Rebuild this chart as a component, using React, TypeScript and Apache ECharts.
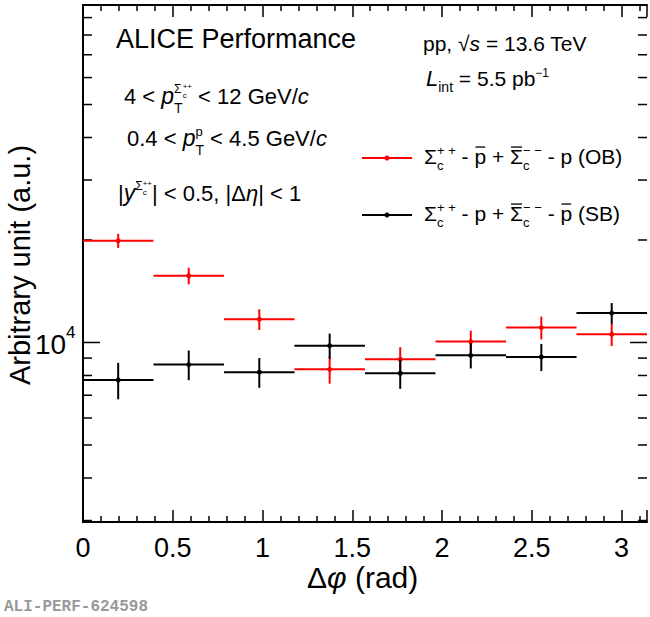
import React, { useEffect, useRef } from "react";
import * as echarts from "echarts";

const binCenters = [0.196, 0.589, 0.982, 1.374, 1.767, 2.160, 2.553, 2.945];
const binHalfWidth = 0.19635;
const obValues = [19900, 15700, 11700, 8340, 8930, 10060, 11060, 10570];
const obErrors = [950, 880, 820, 770, 760, 770, 850, 810];
const sbValues = [7760, 8610, 8180, 9790, 8120, 9170, 9070, 12200];
const sbErrors = [950, 860, 820, 830, 810, 780, 830, 850];
const yMinorTicks = [3000, 4000, 5000, 6000, 7000, 8000, 9000, 20000, 30000, 40000, 50000, 60000, 70000, 80000, 90000];
const yMajorTicks = [10000];
const xTickLabels = ["0", "0.5", "1", "1.5", "2", "2.5", "3"];

const FONT = "Liberation Sans, Arial, sans-serif";
let ctx: CanvasRenderingContext2D | null = null;
function measure(t: string, size: number, it?: boolean) {
  if (!ctx) ctx = document.createElement("canvas").getContext("2d");
  ctx!.font = `${it ? "italic " : ""}${size}px ${FONT}`;
  return ctx!.measureText(t).width;
}
type Seg = { t: string; s: number; it?: boolean; dy?: number; stack?: boolean; bar?: boolean };
function richLine(x: number, y: number, segs: Seg[], color = "#000") {
  const els: any[] = [];
  let cx = x;
  let lastStart = x;
  let stackMax = 0;
  for (const sg of segs) {
    let px = cx;
    if (sg.stack) px = lastStart;
    else lastStart = cx;
    const w = measure(sg.t, sg.s, sg.it);
    els.push({
      type: "text",
      x: px,
      y: y + (sg.dy || 0),
      style: { text: sg.t, fontSize: sg.s, fontStyle: sg.it ? "italic" : "normal", fontFamily: FONT, fill: color, textVerticalAlign: "bottom" },
    });
    if (sg.bar) {
      const by = y + (sg.dy || 0) - sg.s * 0.95;
      els.push({ type: "line", shape: { x1: px + 1, y1: by, x2: px + w - 1, y2: by }, style: { stroke: color, lineWidth: 1.3 } });
    }
    if (sg.stack) {
      stackMax = Math.max(stackMax, px + w);
      cx = Math.max(cx, stackMax);
    } else {
      cx = px + w;
      stackMax = cx;
    }
  }
  return els;
}

export default function App() {
  const ref = useRef<HTMLDivElement>(null);
  useEffect(() => {
    const chart = echarts.init(ref.current!, undefined, { renderer: "svg" });
    const errItem = (color: string) => (params: any, api: any) => {
      const x = api.value(0), y = api.value(1), e = api.value(2);
      const l = api.coord([x - binHalfWidth, y]);
      const r = api.coord([x + binHalfWidth, y]);
      const c = api.coord([x, y]);
      const lo = api.coord([x, y - e]);
      const hi = api.coord([x, y + e]);
      const st = { stroke: color, lineWidth: 2 };
      return {
        type: "group",
        children: [
          { type: "line", shape: { x1: l[0], y1: l[1], x2: r[0], y2: r[1] }, style: st },
          { type: "line", shape: { x1: c[0], y1: lo[1], x2: c[0], y2: hi[1] }, style: st },
          { type: "circle", shape: { cx: c[0], cy: c[1], r: 2.5 }, style: { fill: color } },
        ],
      };
    };
    const tickItem = (len: number, label: boolean) => (params: any, api: any) => {
      const v = api.value(0);
      const a = api.coord([0, v]);
      const b = api.coord([Math.PI, v]);
      const ch: any[] = [
        { type: "line", shape: { x1: a[0], y1: a[1], x2: a[0] + len, y2: a[1] }, style: { stroke: "#000", lineWidth: 1.5 } },
        { type: "line", shape: { x1: b[0], y1: b[1], x2: b[0] - len, y2: b[1] }, style: { stroke: "#000", lineWidth: 1.5 } },
      ];
      if (label) {
        ch.push({ type: "text", x: a[0] - 48, y: a[1] + 16, style: { text: "10", fontSize: 28, fontFamily: FONT, fill: "#000", textVerticalAlign: "bottom" } });
        ch.push({ type: "text", x: a[0] - 17, y: a[1] - 1, style: { text: "4", fontSize: 17, fontFamily: FONT, fill: "#000", textVerticalAlign: "bottom" } });
      }
      return { type: "group", children: ch };
    };
    const xAxisCommon = {
      type: "value", min: 0, max: Math.PI, interval: 0.5,
      axisLine: { show: true, onZero: false, lineStyle: { color: "#000", width: 2 } },
      axisTick: { show: true, inside: true, length: 12, lineStyle: { color: "#000", width: 1.5 } },
      minorTick: { show: true, splitNumber: 5, length: 6, lineStyle: { color: "#000", width: 1.5 } },
      splitLine: { show: false },
    };
    const graphics: any[] = [
      ...richLine(116, 52, [{ t: "ALICE Performance", s: 27 }]),
      ...richLine(124, 107, [
        { t: "4 < ", s: 22 }, { t: "p", s: 23, it: true },
        { t: "T", s: 14, dy: 8 }, { t: "Σ", s: 12, dy: -12, stack: true }, { t: "c", s: 8, dy: -8 }, { t: "++", s: 8, dy: -17, stack: true },
        { t: " < 12 GeV/", s: 22 }, { t: "c", s: 22, it: true },
      ]),
      ...richLine(127, 149, [
        { t: "0.4 < ", s: 22 }, { t: "p", s: 23, it: true },
        { t: "T", s: 14, dy: 8 }, { t: "p", s: 13, dy: -11, stack: true },
        { t: " < 4.5 GeV/", s: 22 }, { t: "c", s: 22, it: true },
      ]),
      ...richLine(118, 204, [
        { t: "|", s: 22 }, { t: "y", s: 23, it: true },
        { t: "Σ", s: 12, dy: -12 }, { t: "c", s: 8, dy: -8 }, { t: "++", s: 8, dy: -17, stack: true },
        { t: "| < 0.5, |Δ", s: 22 }, { t: "η", s: 22, it: true }, { t: "| < 1", s: 22 },
      ]),
      ...richLine(423, 54, [
        { t: "pp, √", s: 21 }, { t: "s", s: 21, it: true }, { t: " = 13.6 TeV", s: 21 },
      ]),
      ...richLine(426, 89, [
        { t: "L", s: 22, it: true }, { t: "int", s: 14, dy: 5 }, { t: " = 5.5 pb", s: 21 }, { t: "−1", s: 12, dy: -10 },
      ]),
      { type: "line", shape: { x1: 362, y1: 158, x2: 412, y2: 158 }, style: { stroke: "#ff0000", lineWidth: 2 } },
      { type: "circle", shape: { cx: 387, cy: 158, r: 2.5 }, style: { fill: "#ff0000" } },
      ...richLine(424, 167, [
        { t: "Σ", s: 21 }, { t: "c", s: 13, dy: 5 }, { t: "+ +", s: 13, dy: -10, stack: true },
        { t: " - ", s: 21 }, { t: "p", s: 21, bar: true }, { t: " + ", s: 21 }, { t: "Σ", s: 21, bar: true }, { t: "c", s: 13, dy: 5 }, { t: "− −", s: 13, dy: -10, stack: true },
        { t: " - p (OB)", s: 21 },
      ]),
      { type: "line", shape: { x1: 362, y1: 215, x2: 412, y2: 215 }, style: { stroke: "#000", lineWidth: 2 } },
      { type: "circle", shape: { cx: 387, cy: 215, r: 2.5 }, style: { fill: "#000" } },
      ...richLine(424, 224, [
        { t: "Σ", s: 21 }, { t: "c", s: 13, dy: 5 }, { t: "+ +", s: 13, dy: -10, stack: true },
        { t: " - p + ", s: 21 }, { t: "Σ", s: 21, bar: true }, { t: "c", s: 13, dy: 5 }, { t: "− −", s: 13, dy: -10, stack: true },
        { t: " - ", s: 21 }, { t: "p", s: 21, bar: true }, { t: " (SB)", s: 21 },
      ]),
      { type: "text", x: 20, y: 265, rotation: Math.PI / 2, style: { text: "Arbitrary unit (a.u.)", fontSize: 29, fontFamily: FONT, fill: "#000", textAlign: "center", textVerticalAlign: "middle" } },
      ...richLine(307, 592, [
        { t: "Δ", s: 30 }, { t: "φ", s: 30, it: true }, { t: " (rad)", s: 30 },
      ]),
      { type: "text", x: 4, y: 607, style: { text: "ALI-PERF-624598", fontSize: 16, fontFamily: "Liberation Mono, DejaVu Sans Mono, monospace", fill: "#999", fontWeight: "bold", textVerticalAlign: "middle" } },
    ];
    chart.setOption({
      animation: false,
      backgroundColor: "#fff",
      grid: { left: 83, right: 3, top: 5, bottom: 95, show: false },
      xAxis: [
        { ...xAxisCommon, position: "bottom",
          axisLabel: { show: true, fontSize: 27, fontFamily: FONT, color: "#000", margin: 12, formatter: (v: number) => { const i = Math.round(v * 2); return Math.abs(v * 2 - i) < 1e-6 && xTickLabels[i] !== undefined ? xTickLabels[i] : ""; } } },
        { ...xAxisCommon, position: "top", axisLabel: { show: false } },
      ],
      yAxis: [
        { type: "log", min: 2970, max: 98000, logBase: 10, axisLine: { show: true, lineStyle: { color: "#000", width: 2 } }, axisTick: { show: false }, axisLabel: { show: false }, splitLine: { show: false } },
        { type: "log", min: 2970, max: 98000, logBase: 10, position: "right", axisLine: { show: true, lineStyle: { color: "#000", width: 2 } }, axisTick: { show: false }, axisLabel: { show: false }, splitLine: { show: false } },
      ],
      series: [
        { type: "custom", renderItem: tickItem(9, false), data: yMinorTicks.map((v) => [v]), encode: { y: 0 }, silent: true, clip: false },
        { type: "custom", renderItem: tickItem(17, true), data: yMajorTicks.map((v) => [v]), encode: { y: 0 }, silent: true, clip: false },
        { type: "custom", renderItem: errItem("#ff0000"), data: binCenters.map((x, i) => [x, obValues[i], obErrors[i]]), encode: { x: 0, y: 1 }, clip: false },
        { type: "custom", renderItem: errItem("#000000"), data: binCenters.map((x, i) => [x, sbValues[i], sbErrors[i]]), encode: { x: 0, y: 1 }, clip: false },
      ],
      graphic: graphics,
    });
    return () => chart.dispose();
  }, []);
  return <div ref={ref} style={{ width: 650, height: 617, position: "absolute", left: 0, top: 0 }} />;
}
